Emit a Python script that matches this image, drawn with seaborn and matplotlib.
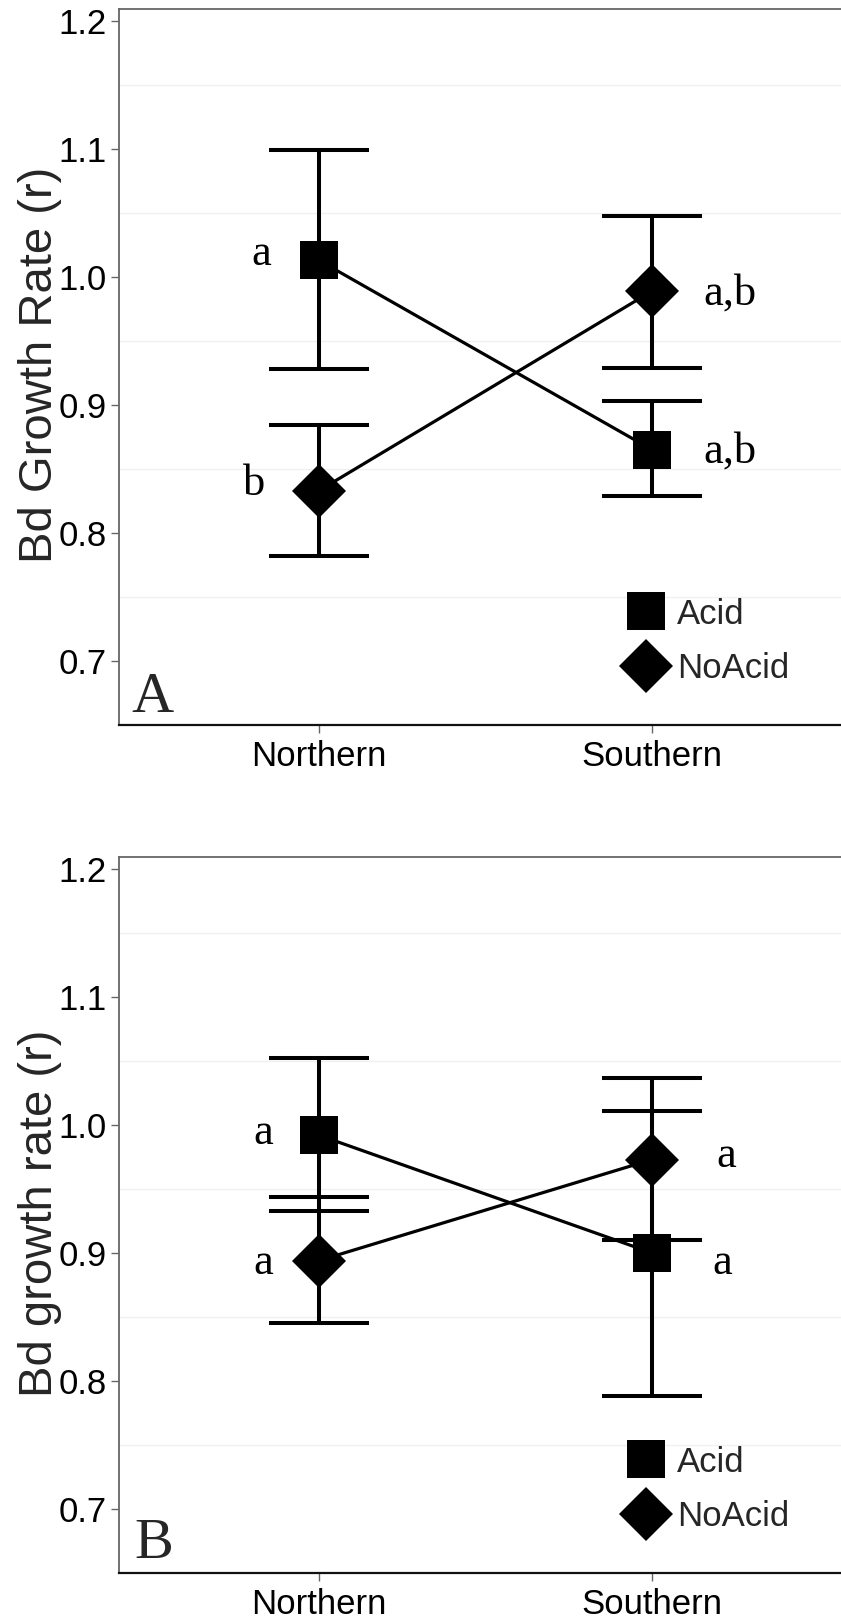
import numpy as np
import pandas as pd
import matplotlib
matplotlib.use("Agg")
import matplotlib.pyplot as plt
from matplotlib.lines import Line2D
import seaborn as sns

# ---------------- data ----------------
regions = ["Northern", "Southern"]
treatments = ["Acid", "NoAcid"]

# Panel A
a_acid_mean = [1.013, 0.865]
a_acid_low = [0.928, 0.829]
a_acid_high = [1.099, 0.903]
a_noacid_mean = [0.833, 0.989]
a_noacid_low = [0.782, 0.929]
a_noacid_high = [0.884, 1.048]
a_letters_acid = ["a", "a,b"]
a_letters_noacid = ["b", "a,b"]

# Panel B
b_acid_mean = [0.992, 0.900]
b_acid_low = [0.933, 0.788]
b_acid_high = [1.052, 1.011]
b_noacid_mean = [0.894, 0.973]
b_noacid_low = [0.845, 0.910]
b_noacid_high = [0.944, 1.037]
b_letters_acid = ["a", "a"]
b_letters_noacid = ["a", "a"]

y_ticks = [0.7, 0.8, 0.9, 1.0, 1.1, 1.2]
y_ticklabels = ["0.7", "0.8", "0.9", "1.0", "1.1", "1.2"]

# ---------------- style ----------------
sns.set_theme(style="white")
plt.rcParams["font.family"] = ["Liberation Sans", "DejaVu Sans"]

W, H = 841, 1621
fig = plt.figure(figsize=(W / 100, H / 100), dpi=100)

def px_axes(left, top, right, bottom):
    return [left / W, (H - bottom) / H, (right - left) / W, (bottom - top) / H]

panels = [
    dict(pos=px_axes(119, 9, 852, 725), ylabel="Bd Growth Rate (r)", tag="A",
         tagxy=(0.0164, 0.018),
         acid=(a_acid_mean, a_acid_low, a_acid_high),
         noacid=(a_noacid_mean, a_noacid_low, a_noacid_high),
         letters=(a_letters_acid, a_letters_noacid),
         # letter placement (x, baseline y) in data coordinates
         letter_pos=([(-0.174, 1.0096), (1.234, 0.855)],
                     [(-0.195, 0.830), (1.234, 0.9784)])),
    dict(pos=px_axes(119, 857, 852, 1573), ylabel="Bd growth rate (r)", tag="B",
         tagxy=(0.0205, 0.021),
         acid=(b_acid_mean, b_acid_low, b_acid_high),
         noacid=(b_noacid_mean, b_noacid_low, b_noacid_high),
         letters=(b_letters_acid, b_letters_noacid),
         letter_pos=([(-0.168, 0.985), (1.21, 0.8836)],
                     [(-0.168, 0.8836), (1.222, 0.967)])),
]

MS = 27
for p in panels:
    ax = fig.add_axes(p["pos"])
    df = pd.DataFrame({
        "region": regions * 2,
        "treatment": [treatments[0]] * 2 + [treatments[1]] * 2,
        "r": list(p["acid"][0]) + list(p["noacid"][0]),
    })
    # error bars
    for (mean, low, high) in (p["acid"], p["noacid"]):
        mean = np.array(mean); low = np.array(low); high = np.array(high)
        ax.errorbar(np.arange(len(regions)), mean, yerr=[mean - low, high - mean],
                    fmt="none", ecolor="black", elinewidth=2.9, capsize=36,
                    capthick=2.9, zorder=2)
    sns.pointplot(data=df, x="region", y="r", hue="treatment", order=regions,
                  hue_order=treatments, palette=["black", "black"],
                  markers=["s", "D"], linestyles=["-", "-"], errorbar=None,
                  dodge=False, legend=False, ax=ax,
                  markersize=MS, linewidth=2.3, markeredgewidth=0)
    for coll in ax.lines:
        coll.set_zorder(3)

    ax.set_xlim(-0.6, 1.6)
    ax.set_ylim(0.6499, 1.2094)
    ax.set_yticks(y_ticks)
    ax.set_yticklabels(y_ticklabels)
    ax.set_xticks(range(len(regions)))
    ax.set_xticklabels(regions)
    ax.set_xlabel("")
    ax.set_ylabel(p["ylabel"], fontsize=34, va="baseline")
    ax.yaxis.set_label_coords(-0.0914, 0.5028)
    ax.tick_params(axis="both", labelsize=25, colors="#333333", length=5.8,
                   width=1.0, color="#666666", left=True, bottom=True)
    ax.tick_params(axis="y", pad=3.0, labelcolor="black")
    ax.tick_params(axis="x", pad=5, labelcolor="black")

    # faint minor grid
    for gy in [0.75, 0.85, 0.95, 1.05, 1.15]:
        ax.axhline(gy, color="#f0f0f0", lw=1.0, zorder=0)

    for side in ["left", "top"]:
        ax.spines[side].set_color("#666666")
        ax.spines[side].set_linewidth(1.3)
    ax.spines["bottom"].set_color("#111111")
    ax.spines["bottom"].set_linewidth(1.6)
    ax.spines["right"].set_color("#666666")
    ax.grid(False)

    # significance letters
    for letters, positions in zip(p["letters"], p["letter_pos"]):
        for lab, (lx, ly) in zip(letters, positions):
            ax.text(lx, ly, lab, family="Liberation Serif", fontsize=32,
                    ha="center", va="baseline", color="black", zorder=4)

    # panel tag
    ax.text(p["tagxy"][0], p["tagxy"][1], p["tag"], transform=ax.transAxes,
            family="Liberation Serif", fontsize=42, ha="left", va="baseline")

    handles = [Line2D([], [], color="black", marker="s", linestyle="none",
                      markersize=MS, markeredgewidth=0),
               Line2D([], [], color="black", marker="D", linestyle="none",
                      markersize=MS, markeredgewidth=0)]
    ax.legend(handles, treatments, loc="upper left",
              bbox_to_anchor=(0.6953, 0.178), frameon=False, fontsize=25,
              handlelength=1.0, handletextpad=0.39, labelspacing=0.62,
              borderpad=0, borderaxespad=0)

fig.savefig("out.png", dpi=100)
